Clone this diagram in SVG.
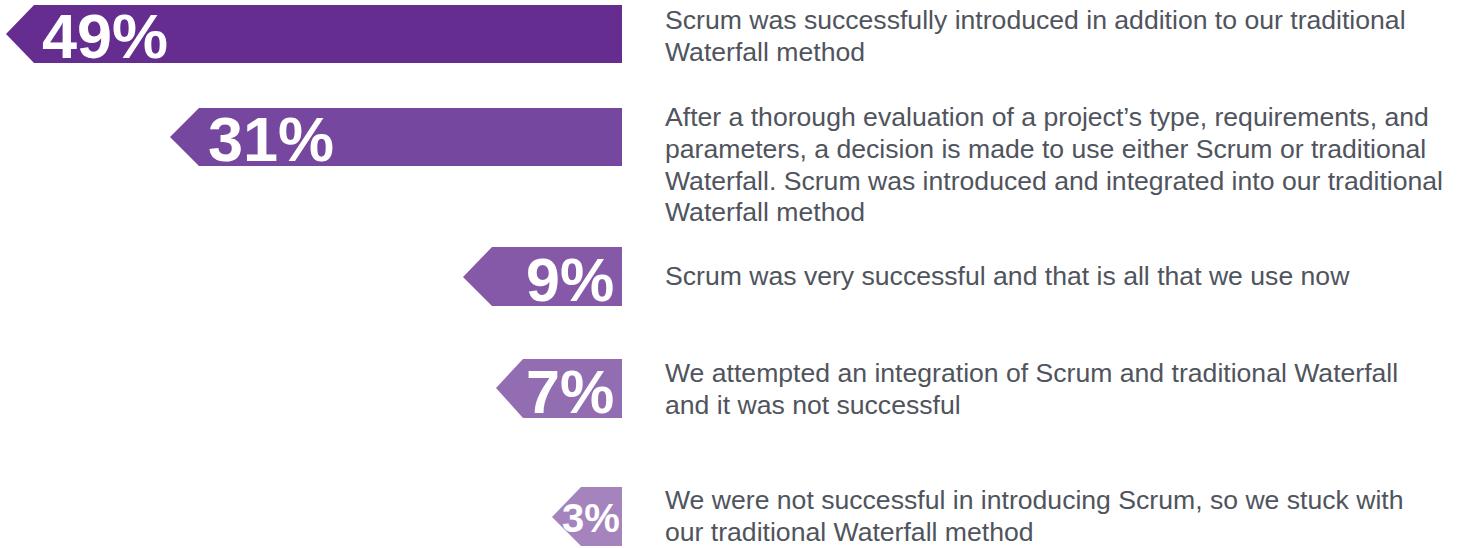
<svg xmlns="http://www.w3.org/2000/svg" width="1462" height="548" viewBox="0 0 1462 548">
<style>
.pct{font-family:"Liberation Sans",Arial,sans-serif;font-weight:bold;fill:#ffffff}
.desc{font-family:"Liberation Sans",Arial,sans-serif;font-size:26.6px;fill:#50545d}
</style>
<rect width="1462" height="548" fill="#ffffff"/>
<g id="bar-49">
<polygon points="622,5 34,5 6,34 34,63 622,63" fill="#652d90"/>
<text class="pct" x="42" y="58" font-size="63">49%</text>
<text class="desc" x="665" y="29">Scrum was successfully introduced in addition to our traditional</text>
<text class="desc" x="665" y="61">Waterfall method</text>
</g>
<g id="bar-31">
<polygon points="622,108 199,108 170,137 199,166 622,166" fill="#76479f"/>
<text class="pct" x="208" y="161" font-size="63">31%</text>
<text class="desc" x="665" y="126">After a thorough evaluation of a project’s type, requirements, and</text>
<text class="desc" x="665" y="158">parameters, a decision is made to use either Scrum or traditional</text>
<text class="desc" x="665" y="190">Waterfall. Scrum was introduced and integrated into our traditional</text>
<text class="desc" x="665" y="221">Waterfall method</text>
</g>
<g id="bar-9">
<polygon points="622,247 492,247 463,277 492,306 622,306" fill="#8559a7"/>
<text class="pct" x="526" y="301" font-size="61">9%</text>
<text class="desc" x="665" y="285">Scrum was very successful and that is all that we use now</text>
</g>
<g id="bar-7">
<polygon points="622,359 523,359 496,388 523,418 622,418" fill="#936db1"/>
<text class="pct" x="526" y="413" font-size="61">7%</text>
<text class="desc" x="665" y="382">We attempted an integration of Scrum and traditional Waterfall</text>
<text class="desc" x="665" y="414">and it was not successful</text>
</g>
<g id="bar-3">
<polygon points="622,487 581,487 552,517 581,546 622,546" fill="#a584be"/>
<text class="pct" x="562" y="532" font-size="40">3%</text>
<text class="desc" x="665" y="509">We were not successful in introducing Scrum, so we stuck with</text>
<text class="desc" x="665" y="541">our traditional Waterfall method</text>
</g>
<g id="connectors"></g>
</svg>
